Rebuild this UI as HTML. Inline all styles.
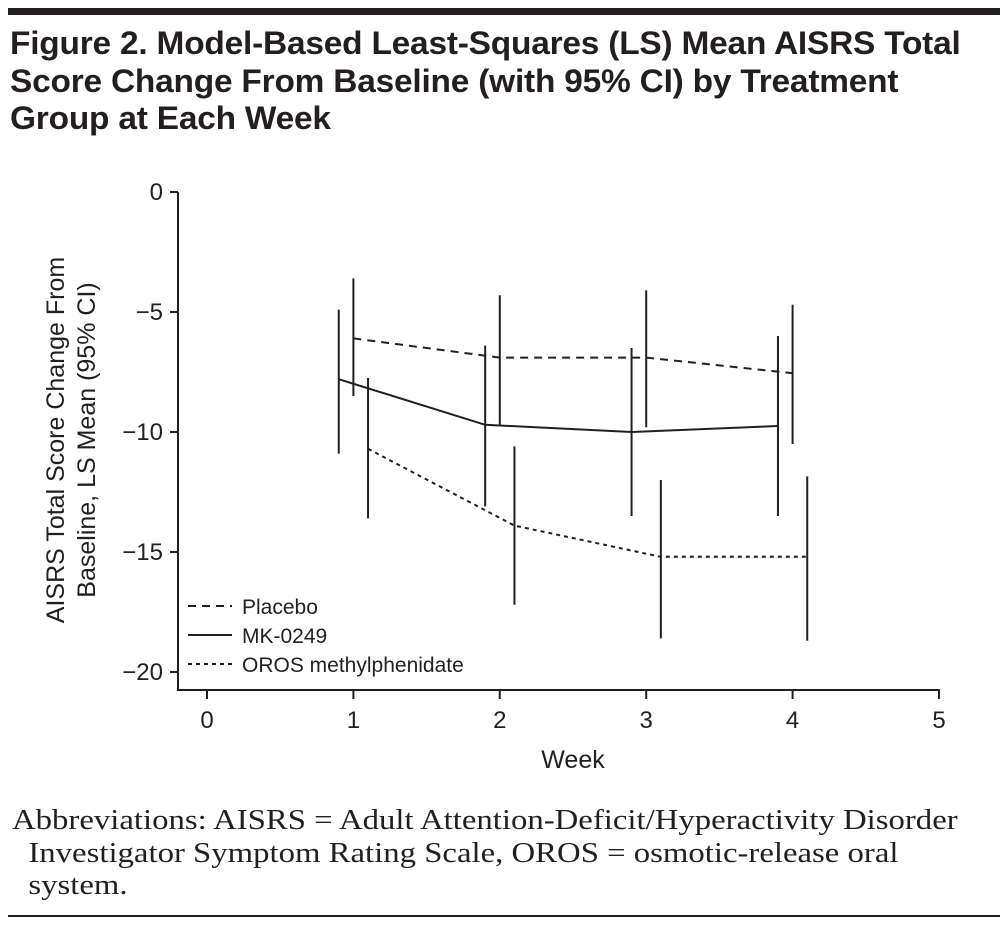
<!DOCTYPE html>
<html><head><meta charset="utf-8"><style>
body{margin:0;background:#fff;width:1000px;height:925px;overflow:hidden;position:relative;font-family:"Liberation Sans",sans-serif;color:#231f20}
#rule-top{position:absolute;left:8px;top:8px;width:992px;height:7px;background:#231f20}
#title{position:absolute;left:10px;top:25px;font-size:32px;font-weight:bold;line-height:37.5px;letter-spacing:-0.2px;transform:scaleX(1.045);transform-origin:left top;white-space:nowrap}
#caption{position:absolute;left:12px;top:805px;font-family:"Liberation Serif",serif;font-size:28px;line-height:32.5px;transform:scaleX(1.17);transform-origin:left top;white-space:nowrap}
#rule-bot{position:absolute;left:8px;top:915px;width:992px;height:2px;background:#231f20}
svg{position:absolute;left:0;top:0}
</style></head><body>
<div id="rule-top"></div>
<div id="title">Figure 2. Model-Based Least-Squares (LS) Mean AISRS Total<br>Score Change From Baseline (with 95% CI) by Treatment<br>Group at Each Week</div>
<svg id="chart" width="1000" height="925"></svg>
<div id="caption">Abbreviations: AISRS = Adult Attention-Deficit/Hyperactivity Disorder<br>&nbsp;&nbsp;Investigator Symptom Rating Scale, OROS = osmotic-release oral<br>&nbsp;&nbsp;system.</div>
<div id="rule-bot"></div>
<script>
const weeks=[1,2,3,4];
const xTicks=[0,1,2,3,4,5];
const yTicks=[0,-5,-10,-15,-20];
const yTickLabels=["0","\u22125","\u221210","\u221215","\u221220"];
const placeboMean=[-6.1,-6.9,-6.9,-7.55];
const placeboLo=[-8.5,-9.75,-9.8,-10.5];
const placeboHi=[-3.6,-4.3,-4.1,-4.7];
const mkMean=[-7.8,-9.7,-10.0,-9.75];
const mkLo=[-10.9,-13.1,-13.5,-13.5];
const mkHi=[-4.9,-6.4,-6.5,-6.0];
const orosMean=[-10.7,-13.9,-15.2,-15.2];
const orosLo=[-13.6,-17.2,-18.6,-18.7];
const orosHi=[-7.75,-10.6,-12.0,-11.85];
const NS="http://www.w3.org/2000/svg";
const svg=document.getElementById('chart');
const X=v=>207+v*146.4;
const Y=v=>192-v*24;
function mk(t,a,p){const e=document.createElementNS(NS,t);for(const k in a)e.setAttribute(k,a[k]);(p||svg).appendChild(e);return e;}
const ax=mk('path',{d:`M178,${Y(0)}V690H940`,fill:'none',stroke:'#231f20','stroke-width':2});


yTicks.forEach((v,i)=>{
 const l=mk('line',{x1:170,x2:178,y1:Y(v),y2:Y(v),stroke:'#231f20','stroke-width':2});
 
 
 const t=mk('text',{x:163,y:Y(v)+8,'text-anchor':'end','font-size':24,fill:'#231f20'});
 t.textContent=yTickLabels[i];
 
 
});
xTicks.forEach(v=>{
 const l=mk('line',{x1:X(v),x2:X(v),y1:690,y2:699,stroke:'#231f20','stroke-width':2});
 
 
 const t=mk('text',{x:X(v),y:728,'text-anchor':'middle','font-size':24,fill:'#231f20'});
 t.textContent=v;
 
 
});
const xt=mk('text',{x:573,y:768,'text-anchor':'middle','font-size':25,fill:'#231f20'});
xt.textContent='Week';


const yt=mk('text',{transform:'translate(64,440) rotate(-90)','text-anchor':'middle','font-size':25,fill:'#231f20'});


const t1=mk('tspan',{x:0,y:0},yt);t1.textContent='AISRS Total Score Change From';
const t2=mk('tspan',{x:0,y:31},yt);t2.textContent='Baseline, LS Mean (95% CI)';
const series=[
 {name:'placebo',mean:placeboMean,lo:placeboLo,hi:placeboHi,off:0,dash:'8,6'},
 {name:'mk-0249',mean:mkMean,lo:mkLo,hi:mkHi,off:-0.1,dash:''},
 {name:'oros',mean:orosMean,lo:orosLo,hi:orosHi,off:0.1,dash:'4,4'}];
series.forEach(s=>{
 const d=weeks.map((w,i)=>(i?'L':'M')+X(w+s.off)+','+Y(s.mean[i])).join('');
 const p=mk('path',{d:d,fill:'none',stroke:'#231f20','stroke-width':2,'stroke-dasharray':s.dash});
 
 
 weeks.forEach((w,i)=>{
  const e=mk('line',{x1:X(w+s.off),x2:X(w+s.off),y1:Y(s.lo[i]),y2:Y(s.hi[i]),stroke:'#231f20','stroke-width':2});
  
  
 });
});
const leg=[['Placebo','8,6',606],['MK-0249','',635],['OROS methylphenidate','4,4',664]];
leg.forEach(l=>{
 const ln=mk('line',{x1:188,x2:232,y1:l[2],y2:l[2],stroke:'#231f20','stroke-width':2,'stroke-dasharray':l[1]});
 
 
 const t=mk('text',{x:242,y:l[2]+8,'font-size':21,fill:'#231f20'});
 t.textContent=l[0];
 
 
});
</script>
</body></html>
